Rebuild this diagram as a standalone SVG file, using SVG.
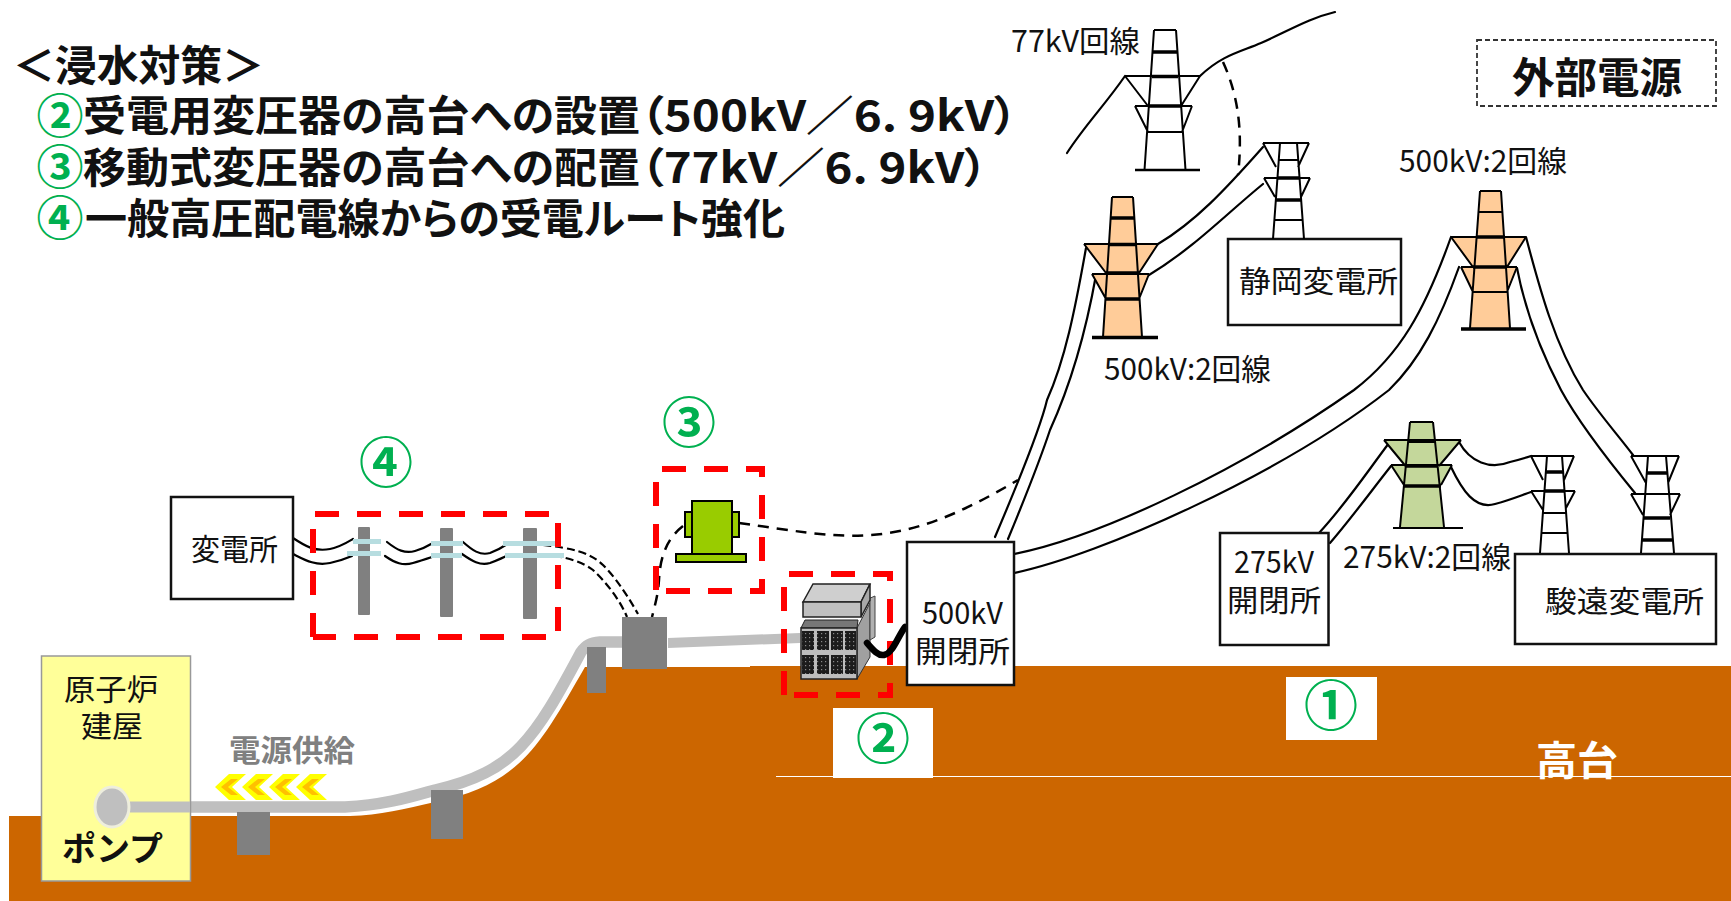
<svg xmlns="http://www.w3.org/2000/svg" xmlns:xlink="http://www.w3.org/1999/xlink" width="1731" height="901" viewBox="0 0 1731 901">
<style>
text{font-family:"Noto Sans CJK JP","Noto Sans",sans-serif;fill:#111;font-size:30px}
.h{font-size:42px;font-weight:700;font-feature-settings:"palt"}
.g{fill:#00B050;font-size:54px;font-weight:700;text-anchor:middle}
.gs{fill:#00B050;font-size:47px;font-weight:700;text-anchor:middle}
.box{fill:#fff;stroke:#111;stroke-width:2.5}
.w{fill:none;stroke:#000;stroke-width:2.2;stroke-linecap:round}
.th{fill:none;stroke:#000;stroke-width:2}
.bd{fill:none;stroke:#000;stroke-width:3.5}
.dd{fill:none;stroke:#000;stroke-width:2.5;stroke-dasharray:11 8}
.df{fill:none;stroke:#000;stroke-width:2.2;stroke-dasharray:8 4}
.red{fill:none;stroke:#f00;stroke-width:6;stroke-dasharray:24 18}
.pole{fill:#808080}
.arm{fill:#B7DDE0}
.o{fill:#FFCC99}
.gr{fill:#C4D79B}
.pn{fill:url(#dots)}
</style>
<defs>
<pattern id="dots" width="4" height="4" patternUnits="userSpaceOnUse"><rect width="4" height="4" fill="#1c1c1c"/><rect x="1" y="1" width="1.2" height="1.2" fill="#888"/></pattern>
<g id="chev"><polygon points="215,787 229,774 246,774 232,787 246,800 229,800" fill="#FFFF00"/><polygon points="221,787 231,779 238,779 228,787 238,795 231,795" fill="#FFC000"/></g>
</defs>

<g id="ground"><path fill="#CC6600" d="M9,816H350C380,815 405,809 435,802C520,785 540,745 585,667H750V666H1731V901H9Z"/>
<line x1="776" y1="776.500" x2="1731" y2="776.500" stroke="#fff" stroke-width="1.200"/>
<rect x="1286" y="677" width="91" height="63" fill="#fff"/><rect x="833" y="708" width="100" height="70" fill="#fff"/>
<text x="1331" y="726" class="g">①</text><text x="883" y="759" class="g">②</text>
<text x="1536" y="775" textLength="82" lengthAdjust="spacingAndGlyphs" style="fill:#fff;font-size:40px;font-weight:700">高台</text></g>

<g id="header">
<text class="h" x="13" y="81" textLength="251" lengthAdjust="spacingAndGlyphs">＜浸水対策＞</text>
<text class="gs" x="60" y="133">②</text>
<text class="h" x="83" y="131" textLength="557" lengthAdjust="spacingAndGlyphs">受電用変圧器の高台への設置</text>
<text class="h" x="640" y="131" textLength="378" lengthAdjust="spacingAndGlyphs">（500kV／6. 9kV）</text>
<text class="gs" x="60" y="184">③</text>
<text class="h" x="83" y="183" textLength="557" lengthAdjust="spacingAndGlyphs">移動式変圧器の高台への配置</text>
<text class="h" x="640" y="183" textLength="348" lengthAdjust="spacingAndGlyphs">（77kV／6. 9kV）</text>
<text class="gs" x="60" y="235">④</text>
<text class="h" x="85" y="234" textLength="700" lengthAdjust="spacingAndGlyphs">一般高圧配電線からの受電ルート強化</text>
</g>

<g id="connectors">
<path class="w" d="M1067,153C1085,125 1105,105 1125,76"/>
<path class="w" d="M1200,76C1222,55 1240,52 1261,43C1290,30 1310,18 1335,12"/>
<path class="dd" d="M1223,62C1238,95 1243,130 1238,175"/>
<path class="w" d="M1158,244C1195,222 1225,190 1263,147"/>
<path class="w" d="M1149,275C1195,247 1225,215 1263,184"/>
<path class="w" d="M1086,248C1075,310 1065,360 1047,400C1040,430 1015,490 995,537"/>
<path class="w" d="M1096,275C1088,320 1075,375 1050,430C1040,460 1020,510 1008,539"/>
<path class="w" d="M1014,554C1100,537 1240,470 1354,390C1400,355 1425,310 1451,237"/>
<path class="w" d="M1014,573C1100,555 1280,475 1389,390C1420,360 1440,320 1459,267"/>
<path class="w" d="M1526,237C1540,290 1555,345 1583,390C1600,415 1618,435 1633,455"/>
<path class="w" d="M1517,268C1525,310 1540,350 1561,390C1580,425 1612,465 1635,493"/>
<path class="w" d="M1389,443C1365,475 1345,505 1319,533"/>
<path class="w" d="M1391,466C1372,490 1350,520 1330,543"/>
<path class="w" d="M1459,442C1470,462 1490,470 1510,462C1518,460 1525,458 1531,456"/>
<path class="w" d="M1451,467C1462,490 1475,510 1495,504C1510,500 1522,495 1531,492"/>
<path class="w" d="M293,538C305,546 315,552 330,549C340,547 348,542 353,539"/>
<path class="w" d="M293,554C305,560 315,566 330,563C340,561 345,559 352,556"/>
<path class="w" d="M387,542C397,550 405,554 415,551C422,549 428,546 433,543"/>
<path class="w" d="M385,556C395,563 403,566 413,563C420,561 426,559 432,557"/>
<path class="w" d="M463,542C472,550 480,556 490,553C498,550 503,547 509,543"/>
<path class="w" d="M462,554C472,561 480,566 490,563C498,560 503,558 508,555"/>
<path class="df" d="M543,545C570,548 590,552 603,565C618,580 630,600 638,614"/>
<path class="df" d="M542,554C560,556 580,560 593,570C606,582 620,600 627,617"/>
<path class="dd" d="M739,523C790,530 830,538 870,535C925,532 975,505 1018,480"/>
<path class="dd" d="M683,526C665,540 660,560 659,580C658,595 655,605 652,617"/>
</g>

<g id="pipe">
<path fill="none" stroke="#bfbfbf" stroke-width="11.500" d="M130,807H345C385,805 410,797 435,790C515,772 535,738 581,652C586,645 590,643 600,642H622"/>
<polygon points="668,638 800,633 800,643 668,648" fill="#bfbfbf"/>
</g>
<g id="supports">
<rect class="pole" x="237" y="812" width="33" height="43"/>
<rect class="pole" x="431" y="790" width="32" height="49"/>
<rect class="pole" x="587" y="647" width="19" height="46"/>
<rect class="pole" x="622" y="617" width="45" height="52"/>
</g>

<g id="reactor-building">
<rect x="41.500" y="656" width="149" height="225" fill="#FFFF99" stroke="#999" stroke-width="1.500"/>
<text x="64" y="700" textLength="94" lengthAdjust="spacingAndGlyphs">原子炉</text>
<text x="81" y="737" textLength="62" lengthAdjust="spacingAndGlyphs">建屋</text>
<text x="62" y="861" textLength="101" lengthAdjust="spacingAndGlyphs" style="font-weight:700;font-size:34px">ポンプ</text>
<path d="M130,801.500H190V812.500H130Z" fill="#bfbfbf"/>
<ellipse cx="112" cy="807" rx="17" ry="20" fill="#bfbfbf" stroke="#eeeedd" stroke-width="3"/>
</g>
<g id="power-feed">
<text x="229" y="761" textLength="126" lengthAdjust="spacingAndGlyphs" style="fill:#808080;font-weight:700">電源供給</text>
<use xlink:href="#chev"/><use xlink:href="#chev" x="27"/><use xlink:href="#chev" x="54"/><use xlink:href="#chev" x="81"/>
</g>

<g id="substation-hv">
<rect class="box" x="171" y="497" width="122" height="102"/>
<text x="191" y="560" textLength="87" lengthAdjust="spacingAndGlyphs">変電所</text>
</g>
<g id="measure-4">
<rect class="pole" x="358" y="527" width="12" height="88" rx="1"/>
<rect class="pole" x="440" y="528" width="13" height="89" rx="1"/>
<rect class="pole" x="523" y="528" width="14" height="91" rx="1"/>
<rect class="arm" x="353" y="539" width="28" height="5"/><rect class="arm" x="347" y="551" width="34" height="5"/>
<rect class="arm" x="431" y="541" width="32" height="5"/><rect class="arm" x="431" y="553" width="31" height="5"/>
<rect class="arm" x="503" y="541" width="57" height="5"/><rect class="arm" x="505" y="553" width="59" height="5"/>
<path class="red" d="M315,514H558V637H313"/><path class="red" d="M313,637V514"/>
<text x="386" y="483" class="g">④</text>
</g>
<g id="measure-3">
<rect x="692" y="501" width="40" height="53" fill="#99CC00" stroke="#000" stroke-width="2"/>
<rect x="685" y="512" width="7" height="25" fill="#99CC00" stroke="#000" stroke-width="2"/>
<rect x="732" y="512" width="7" height="25" fill="#99CC00" stroke="#000" stroke-width="2"/>
<rect x="676" y="554" width="70" height="8" fill="#99CC00" stroke="#000" stroke-width="2"/>
<path class="red" d="M662,469H762V591H656"/><path class="red" d="M656,590V469"/>
<text x="689" y="443" class="g">③</text>
</g>
<g id="measure-2">
<polygon points="857,628 870,603 870,657 857,679" fill="#a0a0a0" stroke="#333"/>
<polygon points="861,602 875,596 875,637 870,640 870,600" fill="#b0b0b0" stroke="#444"/>
<polygon points="801,628 805,620 858,620 857,628" fill="#777" stroke="#222"/>
<rect x="801" y="628" width="56" height="51" fill="#bdbdbd" stroke="#222" stroke-width="1.500"/>
<rect class="pn" x="802" y="631" width="12" height="19"/><rect class="pn" x="817" y="631" width="12" height="19"/><rect class="pn" x="831" y="631" width="12" height="19"/><rect class="pn" x="845" y="631" width="11" height="19"/>
<rect class="pn" x="802" y="655" width="12" height="19"/><rect class="pn" x="817" y="655" width="12" height="19"/><rect class="pn" x="831" y="655" width="12" height="19"/><rect class="pn" x="845" y="655" width="11" height="19"/>
<polygon points="803,602 813,584 870,584 861,602" fill="#cfcfcf" stroke="#222" stroke-width="1.500"/>
<polygon points="861,602 870,584 870,600 861,617" fill="#a8a8a8" stroke="#222" stroke-width="1.500"/>
<rect x="803" y="602" width="58" height="15" fill="#c0c0c0" stroke="#222" stroke-width="1.500"/>
<path class="red" d="M789,574H890V695H784"/><path class="red" d="M784,695V574"/>
<path fill="none" stroke="#000" stroke-width="6.500" stroke-linecap="round" d="M867,643C873,650 878,656 884,655C893,653 897,638 905,627"/>
</g>

<g id="switchyard-500kv">
<rect class="box" x="907" y="542" width="107" height="143"/>
<text x="922" y="624" textLength="81" lengthAdjust="spacingAndGlyphs">500kV</text>
<text x="915" y="662" textLength="95" lengthAdjust="spacingAndGlyphs">開閉所</text>
</g>
<g id="switchyard-275kv">
<rect class="box" x="1220" y="533" width="108.500" height="112"/>
<text x="1234" y="573" textLength="80" lengthAdjust="spacingAndGlyphs">275kV</text>
<text x="1227" y="611" textLength="94" lengthAdjust="spacingAndGlyphs">開閉所</text>
</g>
<g id="substation-suruga">
<rect class="box" x="1515" y="554" width="201" height="90"/>
<text x="1545" y="612" textLength="159" lengthAdjust="spacingAndGlyphs">駿遠変電所</text>
</g>
<g id="substation-shizuoka">
<rect class="box" x="1228" y="239" width="173" height="86"/>
<text x="1239" y="292" textLength="159" lengthAdjust="spacingAndGlyphs">静岡変電所</text>
</g>
<g id="external-power">
<rect x="1477" y="40" width="239" height="66" fill="#fff" stroke="#333" stroke-width="1.800" stroke-dasharray="5 3"/>
<text x="1512" y="93" textLength="170" lengthAdjust="spacingAndGlyphs" style="font-size:42px;font-weight:700">外部電源</text>
</g>

<g id="tower-77kv">
<path class="th" d="M1154,30H1176M1154,30L1144.500,170M1176,30L1185.500,170M1125,76H1200M1125,76L1148,106M1200,76L1181,106M1135,106H1192M1135,106L1148,132M1192,106L1182,132M1148,132H1182"/>
<path class="bd" d="M1153,52H1177M1152,76.500H1178M1148,106H1181"/><path class="bd" style="stroke-width:2.500" d="M1135,170H1200"/>
</g>
<g id="tower-shizuoka">
<path class="th" d="M1263,143H1309M1280,143L1273,239M1297,143L1304,239M1263,143L1276,167M1309,143L1298,167M1264,178H1310M1264,178L1275,197M1310,178L1301,197M1278,160H1298M1275,220H1302"/>
<path class="bd" d="M1277,178H1299M1276,200H1301"/>
</g>
<g id="tower-500kv-a">
<polygon class="o" points="1112,197 1133,197 1142,337 1103,337"/>
<polygon class="o" points="1084,244 1158,244 1139,273 1106,273"/><polygon class="o" points="1092,274 1149,274 1139,299 1106,299"/>
<path class="th" d="M1112,197H1133M1112,197L1103,337M1133,197L1142,337M1084,244H1158M1084,244L1106,273M1158,244L1139,273M1092,274H1149M1092,274L1106,299M1149,274L1139,299"/>
<path class="bd" d="M1111,218H1134M1108,244.500H1137M1106,273H1139M1105,299H1140M1092,337.500H1158"/>
</g>
<g id="tower-500kv-b">
<polygon class="o" points="1480,191 1501,191 1510,328 1470,328"/>
<polygon class="o" points="1451,237 1526,237 1507,267 1473,267"/><polygon class="o" points="1461,267 1517,267 1507,292 1473,292"/>
<path class="th" d="M1480,191H1501M1480,191L1470,328M1501,191L1510,328M1451,237H1526M1451,237L1473,267M1526,237L1507,267M1461,267H1517M1461,267L1473,292M1517,267L1507,292M1478,212H1503M1473,292H1507"/>
<path class="bd" d="M1477,237H1505M1473,267H1507M1461,329H1526"/>
</g>
<g id="tower-275kv">
<polygon class="gr" points="1410,422 1433,422 1444,527 1400,527"/>
<polygon class="gr" points="1384,440 1461,440 1439,466 1405.500,466"/><polygon class="gr" points="1391,465 1452,465 1441,485 1404,485"/>
<path class="th" d="M1410,422H1433M1410,422L1400,527M1433,422L1444,527M1384,440H1461M1384,440L1405.500,466M1461,440L1439,466M1391,465H1452M1391,465L1404,485M1452,465L1441,485M1408,442H1435M1393,528H1463"/>
<path class="bd" d="M1406,466H1437M1404,486H1441"/>
</g>
<g id="tower-suruga-a">
<path class="th" d="M1531,456H1574M1547,456L1540,553M1562,456L1569,553M1531,456L1543,480M1574,456L1564,480M1531,491H1575M1531,491L1543,510M1575,491L1566,508M1543,513H1566M1541,533H1568"/>
<path class="bd" d="M1546,472H1563M1544,491H1565"/>
</g>
<g id="tower-suruga-b">
<path class="th" d="M1631,456H1679M1648,456L1641,553M1666,456L1674,553M1631,456L1646,483M1679,456L1668,483M1631,494H1680M1631,494L1643,515M1680,494L1670,515"/>
<path class="bd" d="M1647,473H1667M1644,518H1670M1642,540H1672"/>
</g>

<g id="line-labels">
<text x="1011" y="52" textLength="129" lengthAdjust="spacingAndGlyphs">77kV回線</text>
<text x="1399" y="172" textLength="168" lengthAdjust="spacingAndGlyphs">500kV:2回線</text>
<text x="1104" y="380" textLength="167" lengthAdjust="spacingAndGlyphs">500kV:2回線</text>
<text x="1343" y="568" textLength="168" lengthAdjust="spacingAndGlyphs">275kV:2回線</text>
</g>
</svg>
